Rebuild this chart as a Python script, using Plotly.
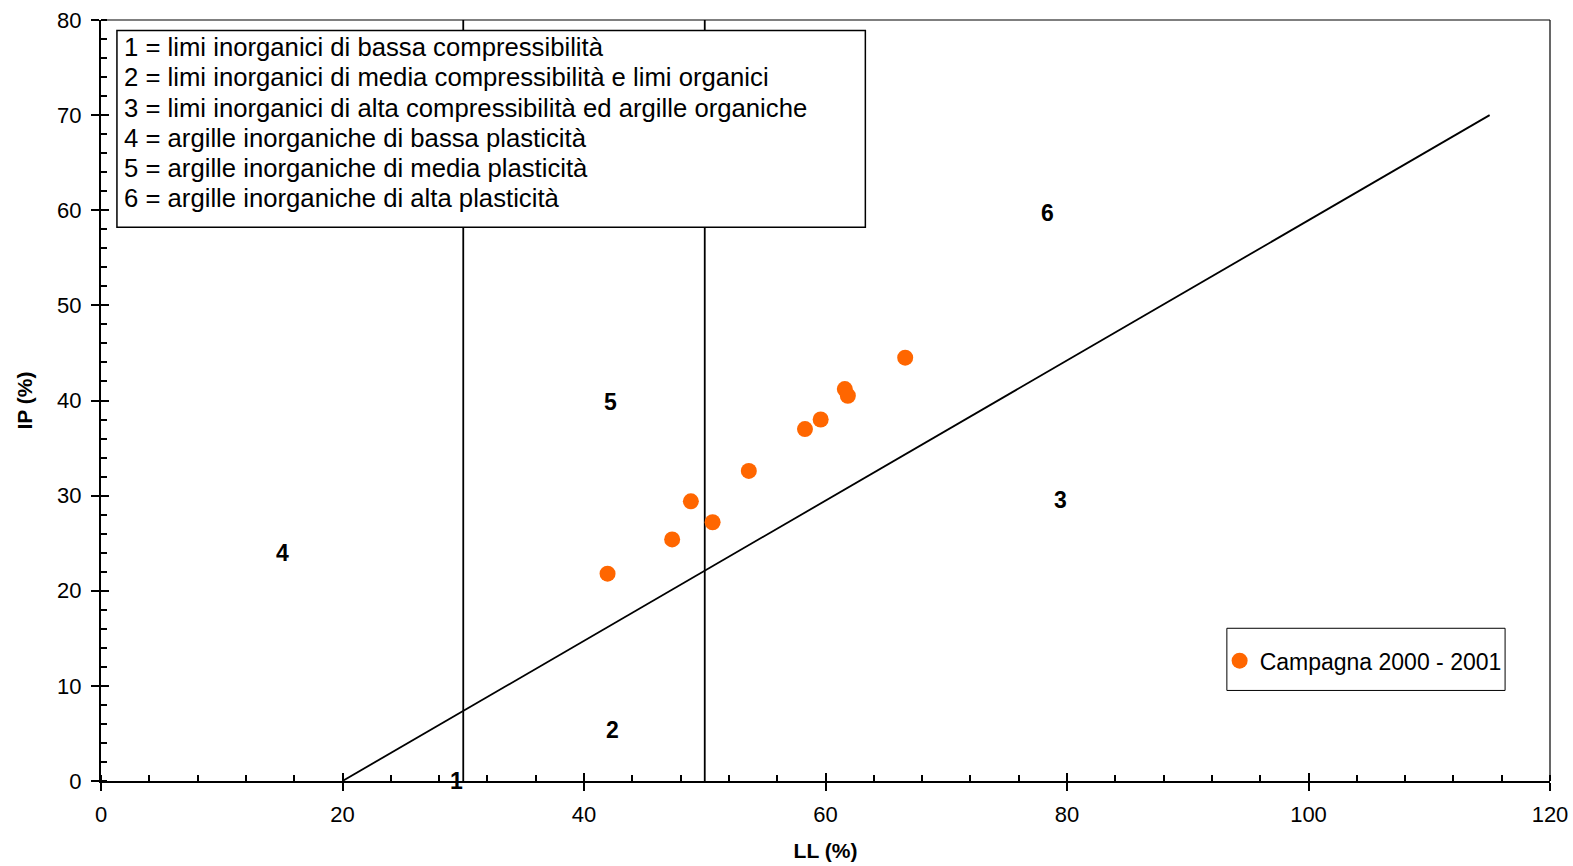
import plotly.graph_objects as go

# Data
ll_values = [41.95, 47.3, 48.85, 50.65, 53.65, 58.3, 59.6, 61.6, 61.85, 66.6]
ip_values = [21.8, 25.4, 29.4, 27.2, 32.6, 37.0, 38.0, 41.2, 40.5, 44.5]
series_name = "Campagna 2000 - 2001"

a_line_x = [20, 115]
a_line_y = [0, 70]
vert_lines_x = [30, 50]
vert_lines_y = [0, 80]

zone_labels = ["1", "2", "3", "4", "5", "6"]
zone_x = [29.4, 42.4, 79.5, 15.0, 42.2, 78.4]
zone_y = [0.0, 5.4, 29.5, 24.0, 39.8, 59.7]

legend_lines = [
    "1 = limi inorganici di bassa compressibilità",
    "2 = limi inorganici di media compressibilità e limi organici",
    "3 = limi inorganici di alta compressibilità ed argille organiche",
    "4 = argille inorganiche di bassa plasticità",
    "5 = argille inorganiche di media plasticità",
    "6 = argille inorganiche di alta plasticità",
]

FONT = "Liberation Sans, Arial, sans-serif"

fig = go.Figure()

fig.add_trace(go.Scatter(x=a_line_x, y=a_line_y, mode="lines",
                         line=dict(color="black", width=1.8), showlegend=False, hoverinfo="skip"))
for vx in vert_lines_x:
    fig.add_trace(go.Scatter(x=[vx, vx], y=vert_lines_y, mode="lines",
                             line=dict(color="black", width=1.8), showlegend=False, hoverinfo="skip"))

fig.add_trace(go.Scatter(x=ll_values, y=ip_values, mode="markers", name=series_name,
                         marker=dict(color="#FF6600", size=16, line=dict(width=0))))

# dummy trace for overlay axis (inner half of major ticks)
fig.add_trace(go.Scatter(x=[None], y=[None], xaxis="x2", yaxis="y2", showlegend=False, hoverinfo="skip"))

# zone labels
for t, x, y in zip(zone_labels, zone_x, zone_y):
    fig.add_annotation(x=x, y=y, text="<b>%s</b>" % t, showarrow=False,
                       font=dict(family=FONT, size=23, color="black"))

# description box
fig.add_shape(type="rect", xref="x", yref="y", x0=1.32, x1=63.3, y0=58.2, y1=78.9,
              fillcolor="white", line=dict(color="black", width=1.5), layer="above")
for i, line in enumerate(legend_lines):
    fig.add_annotation(x=1.7, y=77.15 - i * 3.18, xref="x", yref="y", text=line, showarrow=False,
                       xanchor="left", yanchor="middle",
                       font=dict(family=FONT, size=25.7, color="black"))

# legend frame
fig.add_shape(type="rect", xref="paper", yref="paper", x0=0.777, x1=0.969, y0=0.119, y1=0.2007,
              fillcolor="rgba(0,0,0,0)", line=dict(color="black", width=1), layer="above")

# top and right border
fig.add_shape(type="line", xref="paper", yref="paper", x0=0, x1=1, y0=1, y1=1,
              line=dict(color="black", width=1.2))
fig.add_shape(type="line", xref="paper", yref="paper", x0=1, x1=1, y0=0, y1=1,
              line=dict(color="black", width=1.2))

axis_common = dict(showgrid=False, zeroline=False, linecolor="black", linewidth=2,
                   tickcolor="black", tickwidth=2, automargin=False,
                   tickfont=dict(family=FONT, size=22, color="black"))

fig.update_layout(
    width=1573, height=866,
    margin=dict(l=101, r=23, t=20, b=85),
    plot_bgcolor="white", paper_bgcolor="white",
    xaxis=dict(range=[0, 120], dtick=20, ticks="outside", ticklen=8, showline=True,
               ticklabelstandoff=5,
               minor=dict(dtick=4, ticks="inside", ticklen=6, tickcolor="black", tickwidth=1.5),
               title=dict(text="<b>LL (%)</b>", font=dict(family=FONT, size=21, color="black"), standoff=17),
               **axis_common),
    yaxis=dict(range=[0, 80], dtick=10, ticks="outside", ticklen=8, showline=True,
               ticklabelstandoff=5,
               minor=dict(dtick=2, ticks="inside", ticklen=6, tickcolor="black", tickwidth=1.5),
               title=dict(text="<b>IP (%)</b>", font=dict(family=FONT, size=21, color="black"), standoff=19),
               **axis_common),
    xaxis2=dict(range=[0, 120], dtick=20, overlaying="x", anchor="y2", side="bottom",
                ticks="inside", ticklen=8, tickwidth=2, tickcolor="black", automargin=False,
                showticklabels=False, showgrid=False, zeroline=False, showline=False),
    yaxis2=dict(range=[0, 80], dtick=10, overlaying="y", anchor="x2", side="left",
                ticks="inside", ticklen=8, tickwidth=2, tickcolor="black", automargin=False,
                showticklabels=False, showgrid=False, zeroline=False, showline=False),
    legend=dict(x=0.772, y=0.158, xanchor="left", yanchor="middle",
                borderwidth=0, bgcolor="rgba(0,0,0,0)",
                font=dict(family=FONT, size=23, color="black"),
                itemwidth=30),
    showlegend=True,
)

fig.write_html("out.html")
